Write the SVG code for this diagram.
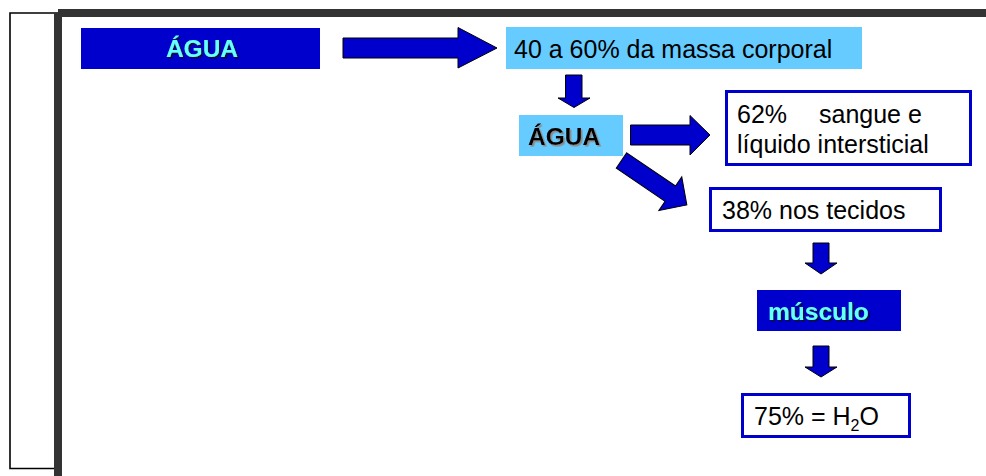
<svg xmlns="http://www.w3.org/2000/svg" width="986" height="476" viewBox="0 0 986 476">
  <defs>
    <filter id="shadowDark" x="-10%" y="-10%" width="130%" height="140%">
      <feDropShadow dx="1.6" dy="1.6" stdDeviation="0.3" flood-color="#111133" flood-opacity="1"/>
    </filter>
    <filter id="shadowLight" x="-10%" y="-10%" width="130%" height="140%">
      <feDropShadow dx="1.6" dy="1.6" stdDeviation="0.3" flood-color="#8a8a8a" flood-opacity="1"/>
    </filter>
  </defs>
  <style>
    .txt { font-family: "Liberation Sans", Arial, sans-serif; font-size: 25px; fill: #000; }
    .bold { font-weight: bold; font-size: 24.5px; }
    .cyan { fill: #66FFFF; filter: url(#shadowDark); }
    .dark { fill: #000; filter: url(#shadowLight); }
    .fillDeep { fill: #0000CC; }
    .fillSky { fill: #66CCFF; }
    .outline { fill: #FFFFFF; stroke: #0000CC; stroke-width: 3; }
    .arrow { fill: #0000CC; stroke: #000; stroke-width: 1; stroke-linejoin: miter; }
  </style>

  <rect x="0" y="0" width="986" height="476" fill="#FFFFFF"/>

  <!-- page frames -->
  <g id="frames">
    <path d="M58,13 H10 V468.5 H58" fill="none" stroke="#000" stroke-width="1.6"/>
    <path d="M58,13 H1000 M58,13 V480" fill="none" stroke="#333333" stroke-width="8"/>
  </g>

  <g id="agua-main">
    <rect class="fillDeep" x="81" y="28" width="239" height="41"/>
    <text class="txt bold cyan" x="202" y="57" text-anchor="middle">ÁGUA</text>
  </g>

  <g id="massa-corporal">
    <rect class="fillSky" x="506" y="27" width="356" height="42"/>
    <text class="txt" x="514" y="57.5">40 a 60% da massa corporal</text>
  </g>

  <g id="agua-sub">
    <rect class="fillSky" x="519" y="115" width="104" height="41"/>
    <text class="txt bold dark" x="528" y="145">ÁGUA</text>
  </g>

  <g id="sangue">
    <rect class="outline" x="726.5" y="91.5" width="244" height="73"/>
    <text class="txt" x="737" y="123">62%<tspan x="819">sangue e</tspan><tspan x="737" y="153">líquido intersticial</tspan></text>
  </g>

  <g id="tecidos">
    <rect class="outline" x="710.5" y="188.5" width="230" height="42"/>
    <text class="txt" x="722" y="219">38% nos tecidos</text>
  </g>

  <g id="musculo">
    <rect class="fillDeep" x="757" y="290" width="144" height="41"/>
    <text class="txt bold cyan" x="768" y="320">músculo</text>
  </g>

  <g id="agua-musculo">
    <rect class="outline" x="742.5" y="394.5" width="167" height="42"/>
    <text class="txt" x="754" y="425">75% = H<tspan font-size="16" dy="6">2</tspan><tspan dy="-6">O</tspan></text>
  </g>

  <!-- block arrows -->
  <g id="connectors">
    <polygon class="arrow" points="343,38 458,38 458,27.5 497,48 458,68 458,58 343,58"/>
    <polygon class="arrow" points="565.5,75 582,75 582,98 590,98 574,107.5 558,98 565.5,98"/>
    <polygon class="arrow" points="630.5,125 690,125 690,115.5 710,135 690,155 690,145 630.5,145"/>
    <polygon class="arrow" transform="translate(621.5,160.5) rotate(34.2)" points="0,-9.3 59,-9.3 59,-20.4 79,0 59,20.4 59,9.3 0,9.3"/>
    <polygon class="arrow" points="813,243 829,243 829,263 837,263 821,274 805,263 813,263"/>
    <polygon class="arrow" points="813,346 829,346 829,367 837,367 821,377 805,367 813,367"/>
  </g>
</svg>
